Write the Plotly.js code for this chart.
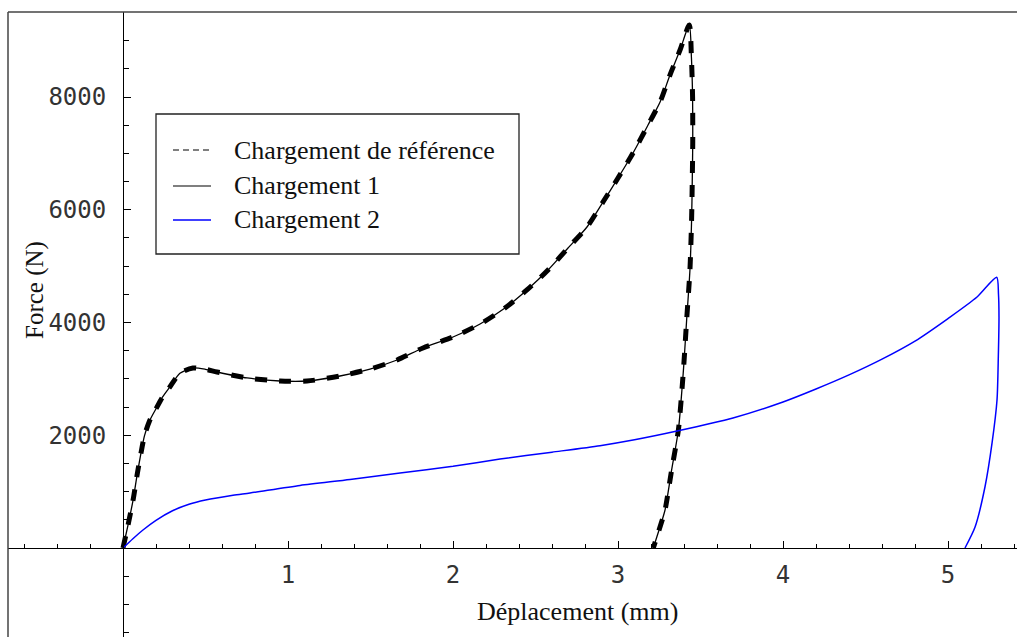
<!DOCTYPE html>
<html>
<head>
<meta charset="utf-8">
<script src="https://cdn.plot.ly/plotly-3.0.1.min.js"></script>
<style>html,body{margin:0;padding:0;background:#fff;}#chart{width:1017px;height:637px;}</style>
</head>
<body>
<div id="chart"></div>
<script>
// Chargement de référence (also followed by Chargement 1)
var refDepl = [0, 0.03, 0.061, 0.087, 0.11, 0.13, 0.16, 0.2, 0.24, 0.285, 0.345, 0.424, 0.50, 0.570, 0.752, 0.952, 1.115, 1.315, 1.497, 1.661, 1.818, 2.0, 2.164, 2.315, 2.448, 2.576, 2.697, 2.812, 2.909, 3.0, 3.091, 3.182, 3.255, 3.315, 3.376, 3.432, 3.445, 3.452, 3.453, 3.450, 3.446, 3.436, 3.416, 3.400, 3.390, 3.366, 3.325, 3.285, 3.255, 3.214];
var refForce = [0, 400, 851, 1325, 1700, 1990, 2250, 2470, 2680, 2861, 3100, 3193, 3170, 3122, 3016, 2962, 2962, 3051, 3175, 3335, 3548, 3743, 3973, 4257, 4577, 4931, 5322, 5694, 6137, 6563, 7007, 7503, 7912, 8390, 8834, 9277, 8700, 8000, 7200, 6500, 5818, 4931, 4044, 3300, 2900, 2093, 1384, 674, 378, 0];
// Chargement 1 (coincides with the reference loading)
var ch1Depl = refDepl.slice();
var ch1Force = refForce.slice();
// Chargement 2
var ch2Depl = [0, 0.06, 0.121, 0.2, 0.3, 0.4, 0.5, 0.667, 0.770, 1.073, 1.376, 1.679, 2.0, 2.285, 2.6, 2.891, 3.1, 3.358, 3.697, 4.0, 4.2, 4.4, 4.6, 4.8, 5.0, 5.176, 5.295, 5.306, 5.309, 5.305, 5.297, 5.267, 5.224, 5.164, 5.103];
var ch2Force = [0, 165, 319, 490, 660, 775, 850, 935, 976, 1110, 1215, 1330, 1450, 1579, 1700, 1815, 1920, 2075, 2306, 2590, 2820, 3070, 3350, 3670, 4070, 4452, 4802, 4500, 4098, 3400, 2625, 1863, 1082, 372, 0];
// Tick labels
var xTicks = [1, 2, 3, 4, 5];
var yTicks = [2000, 4000, 6000, 8000];
var legendNames = ["Chargement de référence", "Chargement 1", "Chargement 2"];

var xMin = -0.69697, xMax = 5.41818;
var yMin = -1578.7, yMax = 9507.8;
var xZeroPaper = (0 - xMin) / (xMax - xMin);
var yZeroPaper = (0 - yMin) / (yMax - yMin);

var traces = [
  {x: refDepl, y: refForce, type: 'scatter', mode: 'lines', line: {color: '#000', width: 5, dash: '12px,12px', shape: 'spline', smoothing: 0.7}, hoverinfo: 'skip'},
  {x: ch1Depl, y: ch1Force, type: 'scatter', mode: 'lines', line: {color: '#000', width: 1.3, shape: 'spline', smoothing: 0.7}, hoverinfo: 'skip'},
  {x: ch2Depl, y: ch2Force, type: 'scatter', mode: 'lines', line: {color: '#0000ff', width: 1.5, shape: 'spline', smoothing: 0.7}, hoverinfo: 'skip'}
];

function px2paperX(px) { return (px - 8) / 1009; }
function px2paperY(py) { return (637 - py) / 625; }

var shapes = [
  {type: 'line', xref: 'paper', yref: 'paper', x0: 0, x1: 1, y0: 1, y1: 1, line: {color: '#444', width: 1.5}},
  {type: 'line', xref: 'paper', yref: 'paper', x0: 0, x1: 0, y0: 0, y1: 1, line: {color: '#444', width: 1.5}},
  {type: 'rect', xref: 'paper', yref: 'paper', x0: px2paperX(156), x1: px2paperX(519), y0: px2paperY(254), y1: px2paperY(114), line: {color: '#222', width: 1.3}, fillcolor: '#fff'},
  {type: 'line', xref: 'paper', yref: 'paper', x0: px2paperX(173), x1: px2paperX(211), y0: px2paperY(150), y1: px2paperY(150), line: {color: '#000', width: 1.2, dash: '6px,4px'}},
  {type: 'line', xref: 'paper', yref: 'paper', x0: px2paperX(173), x1: px2paperX(211), y0: px2paperY(186), y1: px2paperY(186), line: {color: '#555', width: 1.5}},
  {type: 'line', xref: 'paper', yref: 'paper', x0: px2paperX(173), x1: px2paperX(211), y0: px2paperY(220), y1: px2paperY(220), line: {color: '#0000ff', width: 1.3}}
];

var serif = {family: '"Liberation Serif", "Times New Roman", serif', size: 26, color: '#111'};
var serifY = {family: '"Liberation Serif", "Times New Roman", serif', size: 25, color: '#111'};
var rowY = [150, 185, 219.5];
var annotations = legendNames.map(function (n, i) {
  return {text: n, xref: 'paper', yref: 'paper', x: px2paperX(232), y: px2paperY(rowY[i]), xanchor: 'left', yanchor: 'middle', showarrow: false, font: serif};
});
annotations.push({text: 'Déplacement (mm)', xref: 'paper', yref: 'paper', x: px2paperX(577), y: px2paperY(611), xanchor: 'center', yanchor: 'middle', showarrow: false, font: serif});
annotations.push({text: 'Force (N)', xref: 'paper', yref: 'paper', x: px2paperX(35), y: px2paperY(290), xanchor: 'center', yanchor: 'middle', textangle: -90, showarrow: false, font: serifY});

var tickFont = {family: '"DejaVu Sans Mono", monospace', size: 24, color: '#333'};

var layout = {
  width: 1017, height: 637,
  margin: {l: 8, r: 0, t: 12, b: 0, pad: 0},
  paper_bgcolor: '#fff', plot_bgcolor: '#fff',
  showlegend: false,
  xaxis: {
    range: [xMin, xMax], anchor: 'free', position: yZeroPaper,
    showgrid: false, zeroline: false, showline: true, linecolor: '#000', linewidth: 1.3,
    tickmode: 'array', tickvals: xTicks, ticktext: xTicks.map(String),
    ticks: 'inside', ticklen: 7, tickwidth: 1, tickcolor: '#000',
    ticklabelstandoff: 5,
    minor: {ticks: 'inside', ticklen: 4, tickwidth: 1, tickcolor: '#000', tickmode: 'linear', tick0: 0, dtick: 0.2, showgrid: false},
    tickfont: tickFont
  },
  yaxis: {
    range: [yMin, yMax], anchor: 'free', position: xZeroPaper,
    showgrid: false, zeroline: false, showline: true, linecolor: '#000', linewidth: 1.3,
    tickmode: 'array', tickvals: yTicks, ticktext: yTicks.map(String),
    ticks: 'inside', ticklen: 7, tickwidth: 1, tickcolor: '#000',
    ticklabelstandoff: 12,
    minor: {ticks: 'inside', ticklen: 5, tickwidth: 1, tickcolor: '#000', tickmode: 'linear', tick0: 0, dtick: 500, showgrid: false},
    tickfont: tickFont
  },
  shapes: shapes,
  annotations: annotations
};

Plotly.newPlot('chart', traces, layout, {displayModeBar: false, staticPlot: true});
</script>
</body>
</html>
